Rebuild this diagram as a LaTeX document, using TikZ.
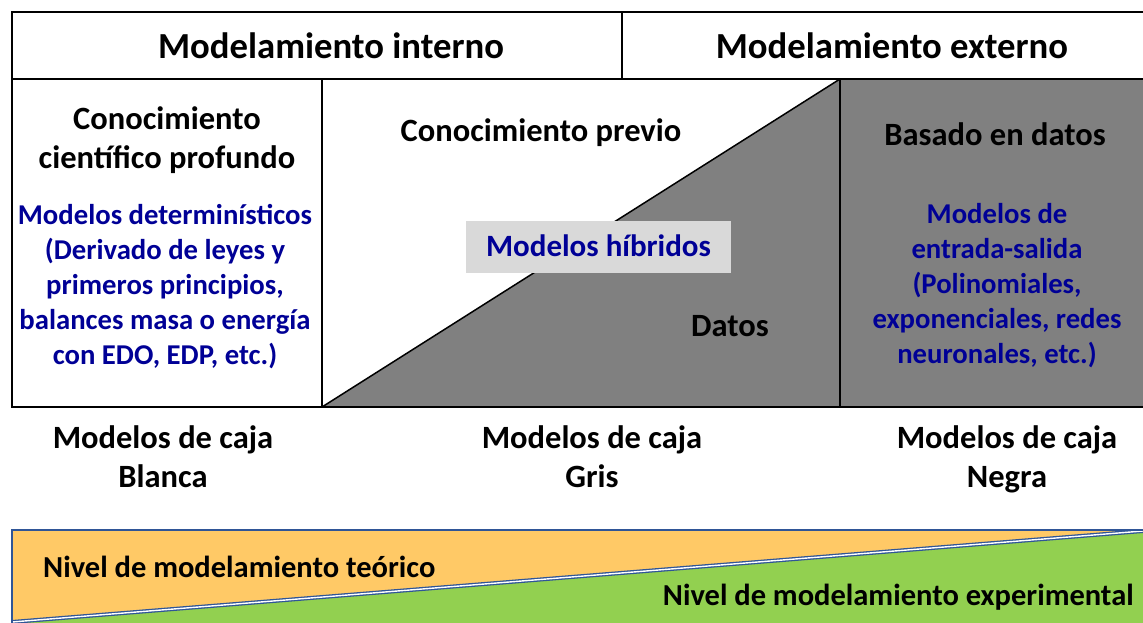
\documentclass[tikz,border=0pt]{standalone}
\usepackage{fontspec}
\setmainfont{Carlito}
\definecolor{txtblue}{RGB}{0,0,150}
\definecolor{greyfill}{RGB}{128,128,128}
\definecolor{hybfill}{RGB}{217,217,217}
\definecolor{barorange}{RGB}{255,201,102}
\definecolor{bargreen}{RGB}{146,208,80}
\definecolor{barblue}{RGB}{47,85,151}
\tikzset{
  hdr/.style={font=\fontsize{36.7}{44}\selectfont\bfseries, inner sep=0pt, align=center},
  blk/.style={font=\fontsize{32.5}{39}\selectfont\bfseries, inner sep=0pt, align=center},
  blu/.style={font=\fontsize{28.7}{35}\selectfont\bfseries, text=txtblue, inner sep=0pt, align=center},
  barlbl/.style={font=\fontsize{30.5}{36}\selectfont\bfseries, inner sep=0pt},
  grid/.style={draw=black, line width=1.8pt},
}
\begin{document}
\begin{tikzpicture}[x=1pt,y=-1pt]
\useasboundingbox (0,0) rectangle (1143,623);
% coordinates of the table
\coordinate (tl) at (12,12);
\coordinate (tr) at (1143,12);
\coordinate (hl) at (12,79);
\coordinate (hr) at (1143,79);
\coordinate (bl) at (12,407);
\coordinate (br) at (1143,407);
\coordinate (hm) at (622,12);
\coordinate (hmb) at (622,79);
\coordinate (c1t) at (322,79);
\coordinate (c1b) at (322,407);
\coordinate (c2t) at (840,79);
\coordinate (c2b) at (840,407);
% grey area
\fill[greyfill] (c1b) -- (c2t) -- (hr) -- (br) -- cycle;
\draw[black, line width=1.5pt] (c1b) -- (c2t);
% grid
\draw[grid] (tr) -- (tl) -- (bl) -- (br);
\draw[grid] (hl) -- (hr);
\draw[grid] (hm) -- (hmb);
\draw[grid] (c1t) -- (c1b);
\draw[grid] (c2t) -- (c2b);
% header
\node[hdr] (hint) at (331,46) {Modelamiento interno};
\node[hdr] (hext) at (892,46) {Modelamiento externo};
% left column
\node[blk] (ccp) at (167,140) {Conocimiento\\científico profundo};
\node[blu] (mdet) at (165,287) {Modelos determinísticos\\(Derivado de leyes y\\primeros principios,\\balances masa o energía\\con EDO, EDP, etc.)};
% middle column
\node[blk] (cprev) at (541,133) {Conocimiento previo};
\node[fill=hybfill, minimum width=265pt, minimum height=52pt, inner sep=0pt] (hyb) at (598.5,247) {};
\node[blu, font=\fontsize{31}{37}\selectfont\bfseries] (hybt) at ([yshift=1pt]hyb.center) {Modelos híbridos};
\node[blk] (datos) at (730,326) {Datos};
% right column
\node[blk] (bdat) at (995,134) {Basado en datos};
\node[blu] (mes) at (997,286) {Modelos de\\entrada-salida\\(Polinomiales,\\exponenciales, redes\\neuronales, etc.)};
% labels below
\node[blk] (lb) at (163,457) {Modelos de caja\\Blanca};
\node[blk] (lg) at (592,457) {Modelos de caja\\Gris};
\node[blk] (ln) at (1007,459) {Modelos de caja\\Negra};
% bottom bar
\coordinate (b1) at (12,530);
\coordinate (b2) at (1143,530);
\coordinate (b3) at (1143,623);
\coordinate (b4) at (12,623);
\coordinate (d1) at (12,622);
\coordinate (d2) at (1143,531);
\fill[bargreen] (b1) -- (b2) -- (b3) -- (b4) -- cycle;
\fill[barorange] (b1) -- (b2) -- (d2) -- (d1) -- cycle;
\draw[barblue, line width=1.3pt, double=white, double distance=1.4pt] (d1) -- (d2);
\draw[barblue, line width=1.8pt] (b4) -- (b1) -- (b2);
\node[barlbl, anchor=west] (nteo) at (43,567) {Nivel de modelamiento teórico};
\node[barlbl, anchor=east] (nexp) at (1134,597) {Nivel de modelamiento experimental};
\end{tikzpicture}
\end{document}
